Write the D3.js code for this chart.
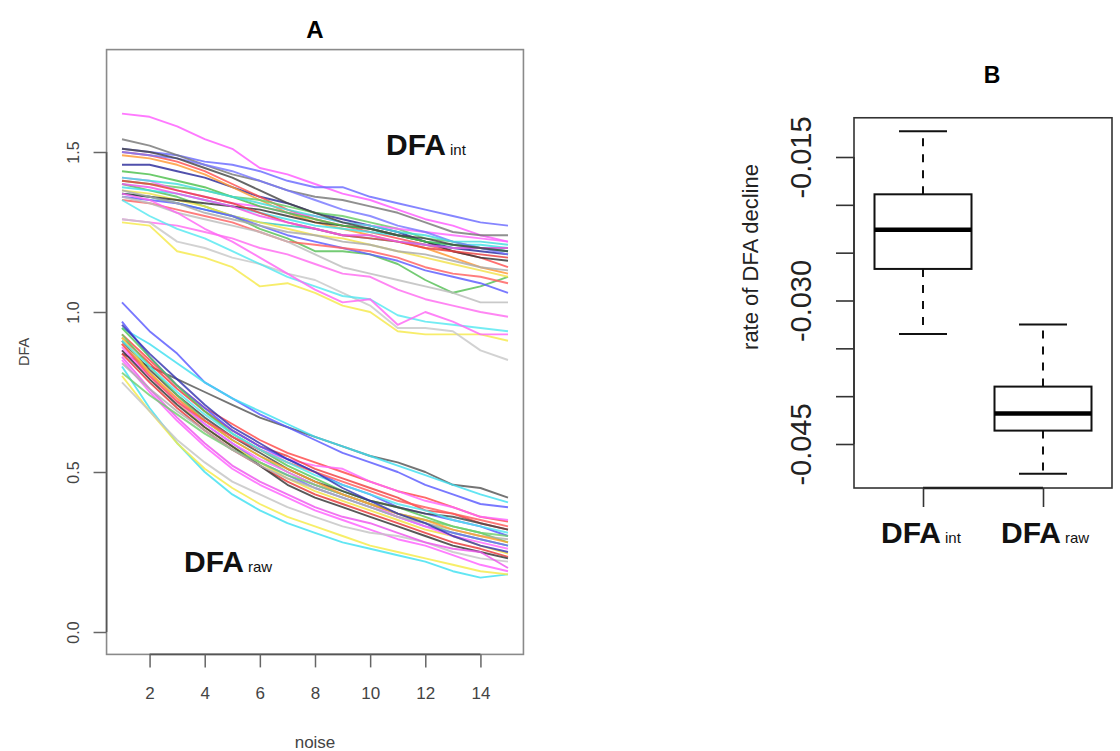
<!DOCTYPE html>
<html>
<head>
<meta charset="utf-8">
<script src="https://cdn.jsdelivr.net/npm/d3@7/dist/d3.min.js"></script>
<style>
  body { margin: 0; background: #fff; }
  svg { display: block; font-family: Arial, "Liberation Sans", sans-serif; }
</style>
</head>
<body>
<svg id="chart" width="1120" height="751"></svg>
<script>
// ---------------- DATA ----------------
const noiseLevels = [1,2,3,4,5,6,7,8,9,10,11,12,13,14,15];

// Panel A: DFA_int trajectories (one array per series, x = noise 1..15)
const intSeries = [
  [1.62,1.61,1.58,1.54,1.51,1.45,1.43,1.40,1.37,1.35,1.32,1.29,1.27,1.24,1.22],
  [1.51,1.50,1.49,1.47,1.46,1.44,1.41,1.39,1.39,1.36,1.34,1.32,1.30,1.28,1.27],
  [1.54,1.52,1.49,1.46,1.43,1.41,1.38,1.36,1.35,1.33,1.31,1.28,1.25,1.24,1.24],
  [1.46,1.46,1.44,1.42,1.39,1.36,1.34,1.31,1.29,1.27,1.25,1.22,1.20,1.19,1.18],
  [1.50,1.49,1.47,1.44,1.40,1.36,1.32,1.29,1.27,1.25,1.23,1.21,1.19,1.17,1.14],
  [1.49,1.48,1.46,1.43,1.39,1.35,1.31,1.28,1.26,1.24,1.22,1.20,1.17,1.14,1.12],
  [1.40,1.38,1.36,1.33,1.30,1.26,1.23,1.19,1.19,1.18,1.15,1.10,1.06,1.08,1.11],
  [1.41,1.40,1.39,1.38,1.36,1.35,1.33,1.31,1.30,1.28,1.26,1.23,1.22,1.20,1.19],
  [1.39,1.38,1.37,1.35,1.33,1.31,1.29,1.27,1.26,1.25,1.24,1.22,1.21,1.21,1.20],
  [1.37,1.36,1.34,1.32,1.30,1.28,1.27,1.26,1.24,1.23,1.22,1.21,1.20,1.20,1.19],
  [1.42,1.41,1.38,1.36,1.34,1.33,1.31,1.30,1.28,1.27,1.26,1.25,1.24,1.23,1.22],
  [1.38,1.37,1.35,1.33,1.30,1.28,1.26,1.24,1.23,1.21,1.19,1.17,1.15,1.13,1.11],
  [1.36,1.35,1.34,1.32,1.30,1.27,1.24,1.22,1.20,1.18,1.16,1.13,1.11,1.09,1.06],
  [1.35,1.34,1.32,1.30,1.28,1.25,1.22,1.21,1.20,1.19,1.17,1.14,1.12,1.11,1.09],
  [1.37,1.36,1.35,1.34,1.33,1.32,1.30,1.28,1.27,1.26,1.24,1.22,1.19,1.17,1.16],
  [1.36,1.34,1.31,1.29,1.27,1.25,1.22,1.18,1.14,1.12,1.10,1.08,1.06,1.03,1.03],
  [1.29,1.28,1.27,1.25,1.23,1.20,1.18,1.15,1.12,1.11,1.07,1.04,1.02,1.00,0.985],
  [1.28,1.27,1.19,1.17,1.14,1.08,1.09,1.06,1.02,1.00,0.94,0.93,0.93,0.93,0.91],
  [1.29,1.28,1.22,1.20,1.17,1.15,1.12,1.10,1.06,1.02,0.95,0.95,0.94,0.88,0.85],
  [1.35,1.30,1.26,1.23,1.19,1.15,1.11,1.08,1.05,1.04,0.99,0.97,0.96,0.95,0.94],
  [1.37,1.35,1.31,1.26,1.22,1.17,1.12,1.07,1.03,1.04,0.96,1.00,0.97,0.93,0.93],
  [1.50,1.49,1.48,1.46,1.44,1.41,1.38,1.35,1.32,1.30,1.27,1.25,1.22,1.20,1.18],
  [1.41,1.40,1.38,1.36,1.34,1.31,1.28,1.26,1.24,1.23,1.22,1.20,1.19,1.18,1.17],
  [1.44,1.43,1.41,1.39,1.36,1.33,1.31,1.29,1.27,1.26,1.24,1.22,1.21,1.20,1.20],
  [1.38,1.36,1.34,1.31,1.29,1.27,1.25,1.24,1.22,1.21,1.19,1.18,1.16,1.14,1.13],
  [1.40,1.39,1.37,1.35,1.33,1.30,1.28,1.26,1.24,1.24,1.22,1.21,1.20,1.20,1.20],
  [1.42,1.41,1.40,1.38,1.36,1.34,1.32,1.30,1.28,1.27,1.25,1.24,1.22,1.22,1.21],
  [1.51,1.50,1.48,1.45,1.42,1.38,1.34,1.31,1.28,1.26,1.24,1.23,1.21,1.20,1.19]
];
const intColors = [
  "#ff5cff","#6a6aff","#777777","#2a2a9a","#ff5050","#ff9933","#55c055",
  "#66cc66","#40e0e8","#30c8c0","#ff66ff","#f2e24a","#5b5bff","#ff6060",
  "#333333","#bdbdbd","#ff6bf0","#f5e94a","#c8c8c8","#55e8f0","#ff66f5",
  "#7777ff","#e84040","#4cbf4c","#aaaaaa","#ee55ee","#44dddd","#444444"
];

// Panel A: DFA_raw trajectories
const rawSeries = [
  [0.87,0.83,0.79,0.75,0.71,0.67,0.64,0.61,0.58,0.55,0.53,0.50,0.46,0.45,0.42],
  [1.03,0.94,0.87,0.78,0.73,0.68,0.64,0.60,0.56,0.53,0.50,0.46,0.43,0.40,0.39],
  [0.95,0.90,0.84,0.78,0.73,0.69,0.65,0.61,0.58,0.55,0.52,0.49,0.46,0.43,0.405],
  [0.93,0.85,0.77,0.70,0.65,0.60,0.56,0.53,0.50,0.47,0.44,0.42,0.39,0.36,0.345],
  [0.88,0.80,0.73,0.66,0.61,0.57,0.54,0.52,0.51,0.47,0.44,0.41,0.39,0.36,0.35],
  [0.92,0.84,0.76,0.69,0.63,0.58,0.55,0.51,0.48,0.45,0.42,0.38,0.37,0.34,0.32],
  [0.97,0.86,0.77,0.70,0.63,0.58,0.54,0.50,0.46,0.43,0.39,0.37,0.35,0.33,0.30],
  [0.95,0.86,0.77,0.69,0.62,0.57,0.52,0.48,0.44,0.41,0.39,0.36,0.33,0.31,0.28],
  [0.91,0.82,0.74,0.67,0.61,0.56,0.51,0.47,0.44,0.41,0.39,0.37,0.36,0.34,0.32],
  [0.93,0.83,0.74,0.66,0.60,0.55,0.50,0.46,0.43,0.40,0.37,0.34,0.31,0.29,0.27],
  [0.90,0.81,0.72,0.65,0.59,0.53,0.49,0.45,0.42,0.39,0.36,0.33,0.31,0.29,0.27],
  [0.92,0.81,0.72,0.64,0.58,0.53,0.48,0.44,0.41,0.38,0.35,0.32,0.30,0.27,0.245],
  [0.87,0.78,0.70,0.63,0.57,0.52,0.47,0.43,0.40,0.37,0.34,0.31,0.28,0.26,0.235],
  [0.88,0.79,0.71,0.64,0.58,0.52,0.46,0.42,0.39,0.36,0.33,0.30,0.27,0.25,0.23],
  [0.85,0.75,0.66,0.58,0.51,0.46,0.42,0.38,0.35,0.32,0.29,0.27,0.24,0.21,0.19],
  [0.83,0.70,0.59,0.50,0.43,0.38,0.34,0.31,0.28,0.26,0.24,0.22,0.19,0.17,0.18],
  [0.80,0.69,0.59,0.51,0.45,0.40,0.36,0.33,0.30,0.27,0.25,0.23,0.21,0.19,0.18],
  [0.78,0.69,0.60,0.53,0.47,0.43,0.39,0.36,0.33,0.31,0.30,0.28,0.25,0.23,0.22],
  [0.86,0.76,0.67,0.59,0.52,0.47,0.43,0.39,0.36,0.34,0.31,0.28,0.26,0.25,0.20],
  [0.89,0.80,0.72,0.65,0.59,0.54,0.50,0.46,0.43,0.40,0.36,0.33,0.30,0.28,0.26],
  [0.81,0.74,0.68,0.62,0.57,0.53,0.49,0.46,0.43,0.40,0.37,0.35,0.33,0.31,0.30],
  [0.84,0.76,0.69,0.63,0.57,0.52,0.48,0.45,0.42,0.39,0.36,0.34,0.32,0.30,0.29],
  [0.90,0.81,0.73,0.66,0.60,0.55,0.51,0.47,0.43,0.40,0.37,0.35,0.32,0.30,0.28],
  [0.90,0.80,0.72,0.66,0.61,0.57,0.53,0.50,0.47,0.44,0.41,0.39,0.37,0.35,0.33],
  [0.91,0.83,0.75,0.68,0.62,0.57,0.53,0.49,0.46,0.43,0.40,0.38,0.35,0.33,0.31],
  [0.96,0.87,0.79,0.71,0.64,0.59,0.54,0.50,0.45,0.41,0.37,0.34,0.30,0.27,0.25]
];
const rawColors = [
  "#555555","#5a5aff","#40dff0","#ff4848","#ff66ff","#f04040","#5555ff",
  "#55c855","#444444","#66d066","#6a6aff","#f0e040","#e83838","#333333",
  "#ff60ff","#3fe0f0","#f5ea48","#c4c4c4","#ee55ee","#ff6aff","#70d070",
  "#b0b0b0","#ffa030","#ff5a5a","#50e6f0","#3535b0"
];

const xTicksA = [2,4,6,8,10,12,14];
const yTicksA = [0, 0.5, 1.0, 1.5];

// Panel B: rate of DFA decline, boxplot statistics
const groupsB = ["int", "raw"];
const whiskerLowB = [-0.0335, -0.0481];
const q1B        = [-0.0267, -0.0436];
const medianB    = [-0.0226, -0.0418];
const q3B        = [-0.0189, -0.0390];
const whiskerHighB = [-0.0123, -0.0325];
const yTicksB = [-0.045,-0.040,-0.035,-0.030,-0.025,-0.020,-0.015];
const yTickLabelsB = ["-0.045","","","-0.030","","","-0.015"];

// ---------------- DRAW ----------------
const svg = d3.select("#chart");
const font = 'Arial, "Liberation Sans", sans-serif';

// ===== Panel A =====
const xA = d3.scaleLinear().domain([1, 15]).range([122, 508]);
const yA = d3.scaleLinear().domain([0, 1.5]).range([632, 152]);
const aL = xA(0.44), aR = xA(15.56), aT = yA(1.82), aB = yA(-0.07);

const gA = svg.append("g");
const line = d3.line().x((d, i) => xA(noiseLevels[i])).y(d => yA(d));

gA.append("g").selectAll("path").data(intSeries).join("path")
  .attr("d", line).attr("fill", "none")
  .attr("stroke", (d, i) => intColors[i % intColors.length])
  .attr("stroke-width", 1.9).attr("stroke-opacity", 0.82)
  .attr("stroke-linejoin", "round");
gA.append("g").selectAll("path").data(rawSeries).join("path")
  .attr("d", line).attr("fill", "none")
  .attr("stroke", (d, i) => rawColors[i % rawColors.length])
  .attr("stroke-width", 1.9).attr("stroke-opacity", 0.82)
  .attr("stroke-linejoin", "round");

// frame
gA.append("rect").attr("x", aL).attr("y", aT).attr("width", aR - aL).attr("height", aB - aT)
  .attr("fill", "none").attr("stroke", "#8a8a8a").attr("stroke-width", 1.6);

// x axis
const xAxisA = d3.axisBottom(xA).tickValues(xTicksA).tickSize(13).tickPadding(20).tickSizeOuter(0);
const gxA = gA.append("g").attr("transform", `translate(0,${aB})`).call(xAxisA);
gxA.select(".domain").attr("d", `M${xA(2)},0H${xA(14)}`).attr("stroke", "#555").attr("stroke-width", 1.6);
gxA.selectAll(".tick line").attr("stroke", "#666").attr("stroke-width", 1.5);
gxA.selectAll(".tick text").attr("font-family", font).attr("font-size", 17).attr("fill", "#444");

// y axis
const yAxisA = d3.axisLeft(yA).tickValues(yTicksA).tickFormat(d3.format(".1f")).tickSize(13).tickPadding(0).tickSizeOuter(0);
const gyA = gA.append("g").attr("transform", `translate(${aL},0)`).call(yAxisA);
gyA.select(".domain").attr("d", `M0,${yA(0)}V${yA(1.5)}`).attr("stroke", "#555").attr("stroke-width", 1.6);
gyA.selectAll(".tick line").attr("stroke", "#666").attr("stroke-width", 1.5);
gyA.selectAll(".tick text")
  .attr("font-family", font).attr("font-size", 16).attr("fill", "#444")
  .attr("x", null).attr("dy", null)
  .attr("text-anchor", "middle")
  .attr("transform", `translate(${79 - aL},0) rotate(-90)`);

// axis titles
gA.append("text").attr("x", (aL + aR) / 2).attr("y", 748).attr("text-anchor", "middle")
  .attr("font-family", font).attr("font-size", 17).attr("fill", "#444").text("noise");
gA.append("text").attr("transform", `translate(29,${(aT + aB) / 2}) rotate(-90)`)
  .attr("text-anchor", "middle").attr("font-family", font).attr("font-size", 14.5)
  .attr("fill", "#444").text("DFA");
// title
gA.append("text").attr("x", (aL + aR) / 2).attr("y", 38).attr("text-anchor", "middle")
  .attr("font-family", font).attr("font-size", 24).attr("font-weight", "bold").text("A");

// annotations
function subLabel(g, x, y, main, sub, mainSize, subSize) {
  const t = g.append("text").attr("x", x).attr("y", y).attr("font-family", font).attr("fill", "#111");
  t.append("tspan").attr("font-size", mainSize).attr("font-weight", "bold").text(main);
  t.append("tspan").attr("font-size", subSize).attr("dx", 4).text(sub);
  return t;
}
subLabel(gA, 386, 155, "DFA", "int", 30, 15);
subLabel(gA, 184, 572, "DFA", "raw", 30, 15);

// ===== Panel B =====
const xB = d3.scalePoint().domain(groupsB).range([854, 1112]).padding(0.575);
const yB = d3.scaleLinear().domain([-0.045, -0.015]).range([444, 157]);
const bL = 854, bR = 1112, bT = yB(-0.0109), bBot = yB(-0.0496);
const boxW = 97, capW = 48;

const gB = svg.append("g");
const boxes = gB.append("g").selectAll("g").data(groupsB).join("g");

// whiskers (dashed)
boxes.append("line").attr("x1", d => xB(d)).attr("x2", d => xB(d))
  .attr("y1", (d, i) => yB(q3B[i])).attr("y2", (d, i) => yB(whiskerHighB[i]))
  .attr("stroke", "#111").attr("stroke-width", 2).attr("stroke-dasharray", "8,8");
boxes.append("line").attr("x1", d => xB(d)).attr("x2", d => xB(d))
  .attr("y1", (d, i) => yB(q1B[i])).attr("y2", (d, i) => yB(whiskerLowB[i]))
  .attr("stroke", "#111").attr("stroke-width", 2).attr("stroke-dasharray", "8,8");
// caps
boxes.append("line").attr("x1", d => xB(d) - capW / 2).attr("x2", d => xB(d) + capW / 2)
  .attr("y1", (d, i) => yB(whiskerHighB[i])).attr("y2", (d, i) => yB(whiskerHighB[i]))
  .attr("stroke", "#111").attr("stroke-width", 2);
boxes.append("line").attr("x1", d => xB(d) - capW / 2).attr("x2", d => xB(d) + capW / 2)
  .attr("y1", (d, i) => yB(whiskerLowB[i])).attr("y2", (d, i) => yB(whiskerLowB[i]))
  .attr("stroke", "#111").attr("stroke-width", 2);
// box
boxes.append("rect").attr("x", d => xB(d) - boxW / 2).attr("width", boxW)
  .attr("y", (d, i) => yB(q3B[i])).attr("height", (d, i) => yB(q1B[i]) - yB(q3B[i]))
  .attr("fill", "#fff").attr("stroke", "#111").attr("stroke-width", 2);
// median
boxes.append("line").attr("x1", d => xB(d) - boxW / 2).attr("x2", d => xB(d) + boxW / 2)
  .attr("y1", (d, i) => yB(medianB[i])).attr("y2", (d, i) => yB(medianB[i]))
  .attr("stroke", "#000").attr("stroke-width", 4.5);

// frame
gB.append("rect").attr("x", bL).attr("y", bT).attr("width", bR - bL).attr("height", bBot - bT)
  .attr("fill", "none").attr("stroke", "#333").attr("stroke-width", 1.6);

// y axis
const yAxisB = d3.axisLeft(yB).tickValues(yTicksB).tickFormat((d, i) => yTickLabelsB[i])
  .tickSize(18).tickPadding(0).tickSizeOuter(0);
const gyB = gB.append("g").attr("transform", `translate(${bL},0)`).call(yAxisB);
gyB.select(".domain").attr("stroke", "#333").attr("stroke-width", 1.6)
  .attr("d", `M0,${yB(-0.045)}V${yB(-0.015)}`);
gyB.selectAll(".tick line").attr("stroke", "#333").attr("stroke-width", 1.6);
gyB.selectAll(".tick text")
  .attr("font-family", font).attr("font-size", 29).attr("fill", "#222")
  .attr("x", null).attr("dy", null).attr("text-anchor", "middle")
  .attr("transform", `translate(${811 - bL},0) rotate(-90)`);

// x axis
const xAxisB = d3.axisBottom(xB).tickSize(19).tickFormat("").tickSizeOuter(0);
const gxB = gB.append("g").attr("transform", `translate(0,${bBot})`).call(xAxisB);
gxB.select(".domain").attr("stroke", "#222").attr("stroke-width", 2.4)
  .attr("d", `M${xB("int")},0H${xB("raw")}`);
gxB.selectAll(".tick line").attr("stroke", "#333").attr("stroke-width", 1.6);

// x labels
subLabel(gB, 881, 543, "DFA", "int", 30, 15);
subLabel(gB, 1001, 543, "DFA", "raw", 30, 15);

// y title
gB.append("text").attr("transform", `translate(758,257) rotate(-90)`)
  .attr("text-anchor", "middle").attr("font-family", font).attr("font-size", 22)
  .attr("fill", "#222").text("rate of DFA decline");
// title
gB.append("text").attr("x", 992).attr("y", 83).attr("text-anchor", "middle")
  .attr("font-family", font).attr("font-size", 23).attr("font-weight", "bold").text("B");
</script>
</body>
</html>
